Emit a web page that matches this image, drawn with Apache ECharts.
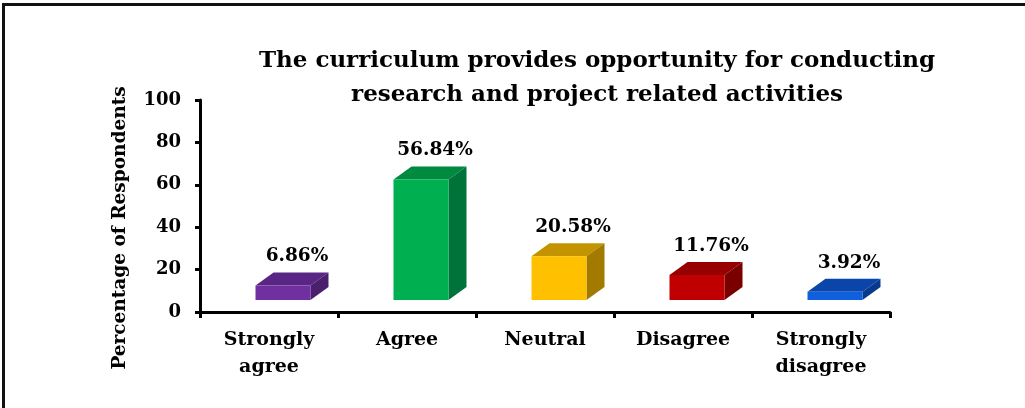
<!DOCTYPE html>
<html>
<head>
<meta charset="utf-8">
<script src="https://cdn.jsdelivr.net/npm/echarts@6/dist/echarts.min.js"></script>
<style>
html,body{margin:0;padding:0;background:#fff;overflow:hidden;}
#chart{width:1025px;height:408px;}
</style>
</head>
<body>
<div id="chart"></div>
<script>
// 类别与数值
var categories = ['Strongly\nagree', 'Agree', 'Neutral', 'Disagree', 'Strongly\ndisagree'];
var values = [6.86, 56.84, 20.58, 11.76, 3.92];
var valueLabels = ['6.86%', '56.84%', '20.58%', '11.76%', '3.92%'];

// 每个柱子的 正面/顶面/侧面 颜色
var frontColors = ['#7030a0', '#00b050', '#ffc000', '#c00000', '#105fdc'];
var topColors = ['#5a2685', '#008a40', '#c49300', '#960000', '#0a46aa'];
var sideColors = ['#4a1f6c', '#00733a', '#a37a00', '#7a0000', '#08398c'];

var FONT = '"DejaVu Serif", serif';

var chart = echarts.init(document.getElementById('chart'));

/**
 * 画伪3D柱子
 */
function renderBar(params, api) {
	var idx = api.value(0);
	var v = api.value(1);
	var top = api.coord([idx, v]);
	var base = api.coord([idx, 0]);
	var lift = 12, dx = 18, dy = 13, bw = 55, shift = 14;
	var x0 = top[0] + shift - bw / 2;
	var x1 = x0 + bw;
	var yb = base[1] - lift;
	var yt = top[1] - lift;
	var i = params.dataIndex;
	return {
		type: 'group',
		children: [
			{
				type: 'polygon',
				shape: { points: [[x0, yt], [x0 + dx, yt - dy], [x1 + dx, yt - dy], [x1, yt]] },
				style: { fill: topColors[i] }
			},
			{
				type: 'polygon',
				shape: { points: [[x1, yt], [x1 + dx, yt - dy], [x1 + dx, yb - dy], [x1, yb]] },
				style: { fill: sideColors[i] }
			},
			{
				type: 'rect',
				shape: { x: x0, y: yt, width: bw, height: yb - yt },
				style: { fill: frontColors[i] }
			},
			{
				type: 'text',
				x: x0 + bw / 2 + 14,
				y: yt - dy - 16,
				style: {
					text: valueLabels[i],
					font: 'bold 18.5px ' + FONT,
					fill: '#000',
					align: 'center',
					verticalAlign: 'middle'
				}
			}
		]
	};
}

var option = {
	backgroundColor: '#fff',
	animation: false,
	title: {
		text: 'The curriculum provides opportunity for conducting\nresearch and project related activities',
		left: 592,
		top: 39,
		textAlign: 'center',
		textStyle: {
			fontFamily: FONT,
			fontWeight: 'bold',
			fontSize: 23,
			lineHeight: 34,
			color: '#000'
		}
	},
	grid: { left: 200, right: 135, top: 100, bottom: 96 },
	xAxis: {
		type: 'category',
		data: categories,
		axisLine: { lineStyle: { color: '#000', width: 3 } },
		axisTick: { show: true, length: 6, lineStyle: { color: '#000', width: 3 } },
		axisLabel: {
			margin: 15,
			fontFamily: FONT,
			fontWeight: 'bold',
			fontSize: 19,
			lineHeight: 27,
			color: '#000'
		}
	},
	yAxis: {
		type: 'value',
		min: 0,
		max: 100,
		interval: 20,
		splitLine: { show: false },
		axisLine: { show: true, lineStyle: { color: '#000', width: 3 } },
		axisTick: { show: true, length: 5, lineStyle: { color: '#000', width: 3 } },
		axisLabel: {
			margin: 19,
			fontFamily: FONT,
			fontWeight: 'bold',
			fontSize: 18,
			color: '#000'
		}
	},
	graphic: [
		{
			type: 'rect',
			shape: { x: 2, y: 3, width: 1200, height: 3 },
			style: { fill: '#111' }
		},
		{
			type: 'rect',
			shape: { x: 2, y: 3, width: 3, height: 420 },
			style: { fill: '#111' }
		},
		{
			type: 'text',
			x: 120,
			y: 228,
			rotation: Math.PI / 2,
			style: {
				text: 'Percentage of Respondents',
				font: 'bold 18.5px ' + FONT,
				fill: '#000',
				align: 'center',
				verticalAlign: 'middle'
			}
		}
	],
	series: [
		{
			type: 'custom',
			renderItem: renderBar,
			data: values.map(function (v, i) { return [i, v]; })
		}
	]
};
chart.setOption(option);
</script>
</body>
</html>
